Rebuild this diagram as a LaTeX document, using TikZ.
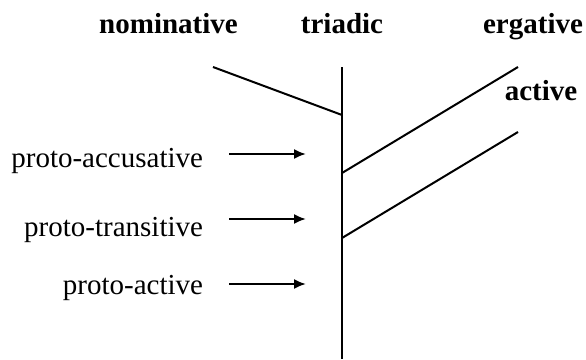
\documentclass[tikz,border=0pt]{standalone}
\usepackage{fontspec}
\setmainfont{Liberation Serif}
\usetikzlibrary{arrows.meta}

\begin{document}
\begin{tikzpicture}[x=1pt, y=-1pt, line width=2pt,
        lbl/.style={inner sep=0pt, font=\fontsize{29}{34}\selectfont},
        head/.style={lbl, anchor=base, font=\fontsize{29}{34}\selectfont\bfseries},
        src/.style={lbl, anchor=base east},
        feed/.style={-{Latex[length=12pt, width=10pt]}}]
        \useasboundingbox (0,0) rectangle (586,359);

        % column headings
        \node[head] (nom) at (168.5, 33) {nominative};
        \node[head] (tri) at (342, 33) {triadic};
        \node[head] (erg) at (533, 33) {ergative};
        \node[head] (act) at (541, 100) {active};

        % trunk and branches
        \coordinate (top) at (342, 67);
        \coordinate (bot) at (342, 359);
        \coordinate (jn) at (342, 115);
        \coordinate (je) at (342, 173);
        \coordinate (ja) at (342, 238);
        \coordinate (nomend) at (213, 67);
        \coordinate (ergend) at (518, 67);
        \coordinate (actend) at (518, 132);

        \draw (top) -- (bot);
        \draw (nomend) -- (jn);
        \draw (je) -- (ergend);
        \draw (ja) -- (actend);

        % proto types
        \node[src] (pacc) at (204, 167) {proto-accusative};
        \node[src] (ptra) at (204, 236) {proto-transitive};
        \node[src] (pact) at (204, 294) {proto-active};

        \coordinate (s1) at (229, 154);
        \coordinate (e1) at (306, 154);
        \coordinate (s2) at (229, 219);
        \coordinate (e2) at (306, 219);
        \coordinate (s3) at (229, 284);
        \coordinate (e3) at (306, 284);

        \draw[feed] (s1) -- (e1);
        \draw[feed] (s2) -- (e2);
        \draw[feed] (s3) -- (e3);
\end{tikzpicture}
\end{document}
